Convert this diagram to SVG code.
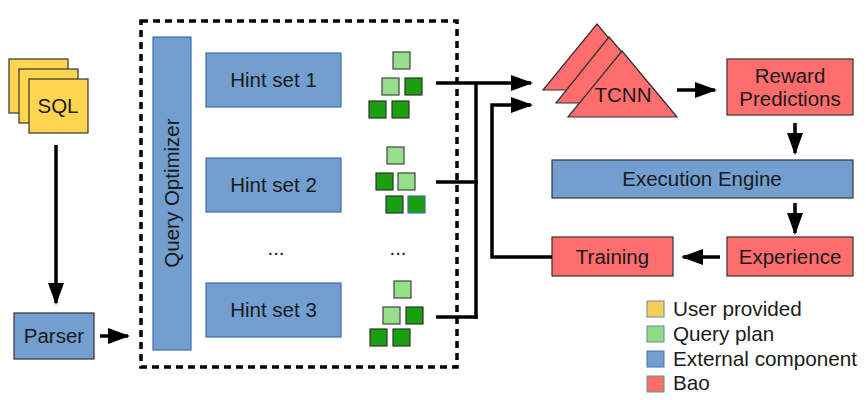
<svg xmlns="http://www.w3.org/2000/svg" width="866" height="400" viewBox="0 0 866 400">
<defs>
<style>
text{font-family:"Liberation Sans",Arial,sans-serif;font-size:20.5px;fill:#1a1a1a;text-anchor:middle}
.yel{fill:#ffd54f;stroke:#333;stroke-width:1.2}
.blu{fill:#729fcf;stroke:#3f6ea8;stroke-width:1.2}
.bluD{fill:#729fcf;stroke:#333;stroke-width:1.2}
.red{fill:#ff6d6d;stroke:#333;stroke-width:1.2}
.lg{fill:#97e08b;stroke:#444;stroke-width:1.2}
.dg{fill:#19a00f;stroke:#333;stroke-width:1.2}
.con{fill:none;stroke:#000;stroke-width:3.5}
.leg{text-anchor:start;font-size:20.7px}
</style>
<marker id="ah" viewBox="0 0 22 16" markerUnits="userSpaceOnUse" markerWidth="22" markerHeight="16" refX="20" refY="8" orient="auto">
<path d="M0,0 L22,8 L0,16 z" fill="#000"/>
</marker>
</defs>
<rect width="866" height="400" fill="#fff"/>

<g id="sql">
<rect class="yel" x="9" y="59" width="59" height="54"/>
<rect class="yel" x="19" y="69" width="59" height="54"/>
<rect class="yel" x="29" y="79" width="59" height="54"/>
<text x="58" y="113">SQL</text>
</g>

<g id="parser">
<rect class="bluD" x="14" y="313" width="80" height="46"/>
<text x="54" y="343">Parser</text>
</g>

<g id="optimizer-frame">
<rect x="141" y="21" width="316" height="346" fill="none" stroke="#000" stroke-width="3.5" stroke-dasharray="7 5"/>
</g>

<g id="query-optimizer">
<rect class="blu" x="153" y="37" width="38" height="313"/>
<text x="172" y="193" transform="rotate(-90 172 193)" dy="7">Query Optimizer</text>
</g>

<g id="hint1">
<rect class="blu" x="206" y="53" width="135" height="54"/>
<text x="273.5" y="87">Hint set 1</text>
</g>
<g id="hint2">
<rect class="blu" x="206" y="158" width="135" height="54"/>
<text x="273.5" y="192">Hint set 2</text>
</g>
<g id="hint-dots">
<text x="276" y="255">...</text>
</g>
<g id="hint3">
<rect class="blu" x="206" y="283" width="135" height="54"/>
<text x="273.5" y="317">Hint set 3</text>
</g>

<g id="plan1">
<rect class="lg" x="393" y="52" width="17" height="17"/>
<rect class="lg" x="382" y="78" width="17" height="17"/>
<rect class="dg" x="405" y="78" width="17" height="17"/>
<rect class="dg" x="369" y="101" width="17" height="17"/>
<rect class="dg" x="392" y="101" width="17" height="17"/>
</g>
<g id="plan2">
<rect class="lg" x="387" y="147" width="17" height="17"/>
<rect class="dg" x="376" y="173" width="17" height="17"/>
<rect class="lg" x="398" y="173" width="17" height="17"/>
<rect class="dg" x="386" y="196" width="17" height="17"/>
<rect class="dg" x="408" y="196" width="17" height="17" style="stroke:#3f6ea8"/>
</g>
<g id="plan-dots">
<text x="398" y="255">...</text>
</g>
<g id="plan3">
<rect class="lg" x="394" y="281" width="17" height="17"/>
<rect class="lg" x="383" y="307" width="17" height="17"/>
<rect class="dg" x="406" y="307" width="17" height="17"/>
<rect class="dg" x="370" y="329" width="17" height="17"/>
<rect class="dg" x="393" y="329" width="17" height="17"/>
</g>

<g id="tcnn">
<polygon class="red" points="597,24 652,90 543,90"/>
<polygon class="red" points="609,37 665,103 556,103"/>
<polygon class="red" points="622,51 677,117 568,117"/>
<text x="623" y="102">TCNN</text>
</g>

<g id="reward">
<rect class="red" x="727" y="59" width="126" height="56"/>
<text x="790" y="83">Reward</text>
<text x="790" y="106">Predictions</text>
</g>

<g id="execution">
<rect class="bluD" x="552" y="160" width="301" height="38"/>
<text x="702" y="186">Execution Engine</text>
</g>

<g id="training">
<rect class="red" x="552" y="237" width="121" height="39"/>
<text x="612.5" y="264">Training</text>
</g>

<g id="experience">
<rect class="red" x="727" y="237" width="126" height="39"/>
<text x="790" y="264">Experience</text>
</g>

<g id="connectors">
<path class="con" d="M56,145 V303" marker-end="url(#ah)"/>
<path class="con" d="M100,336 H128" marker-end="url(#ah)"/>
<path class="con" d="M436,83 H531" marker-end="url(#ah)"/>
<path class="con" d="M476,83 V318.75"/>
<path class="con" d="M436,182 H477.75"/>
<path class="con" d="M436,317 H477.75"/>
<path class="con" d="M552,257 H492 V105 H531" marker-end="url(#ah)"/>
<path class="con" d="M677,90 H715" marker-end="url(#ah)"/>
<path class="con" d="M795,123 V153" marker-end="url(#ah)"/>
<path class="con" d="M795,203 V233" marker-end="url(#ah)"/>
<path class="con" d="M720,257 H683" marker-end="url(#ah)"/>
</g>

<g id="legend">
<rect x="647" y="301" width="17" height="16" fill="#f5cf57" stroke="#6a86b0" stroke-width="1"/>
<text class="leg" x="673" y="316">User provided</text>
<rect x="647" y="326" width="17" height="16" fill="#8fdc7c" stroke="#6a86b0" stroke-width="1"/>
<text class="leg" x="673" y="341">Query plan</text>
<rect x="647" y="351" width="17" height="16" fill="#729fcf" stroke="#4a72a8" stroke-width="1"/>
<text class="leg" x="673" y="366">External component</text>
<rect x="647" y="376" width="17" height="16" fill="#ff6d6d" stroke="#6a86b0" stroke-width="1"/>
<text class="leg" x="673" y="390">Bao</text>
</g>
</svg>
